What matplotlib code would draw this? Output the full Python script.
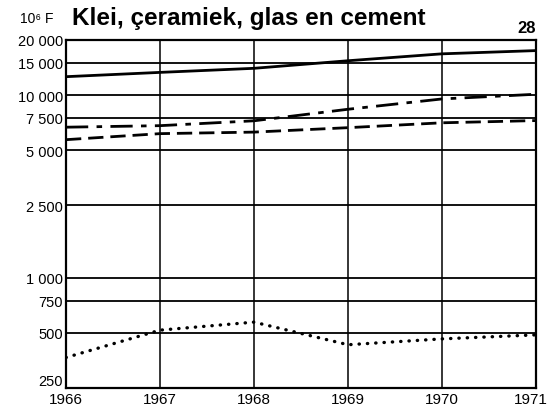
import numpy as np
import matplotlib
matplotlib.use("Agg")
import matplotlib.pyplot as plt
from matplotlib.transforms import ScaledTranslation

plt.rcParams['font.family'] = ['Liberation Sans', 'DejaVu Sans']

years = [1966, 1967, 1968, 1969, 1970, 1971]
solid = [12600, 13300, 14000, 15400, 16800, 17500]
dashdot = [6670, 6800, 7230, 8360, 9520, 10100]
dashed = [5700, 6150, 6270, 6630, 7050, 7250]
dotted = [367, 518, 573, 431, 464, 488]

yticks = [250, 500, 750, 1000, 2500, 5000, 7500, 10000, 15000, 20000]
ylabels = ["250", "500", "750", "1 000", "2 500", "5 000", "7 500", "10 000", "15 000", "20 000"]

fig = plt.figure(figsize=(5.5, 4.14), dpi=100)
ax = fig.add_axes([0.12, 0.0604, 0.8545, 0.8406])

ax.set_yscale('log')
ax.set_xlim(1966, 1971)
ax.set_ylim(250, 20000)

for y in yticks:
    ax.axhline(y, color='black', lw=1.3, zorder=1)
for x in years[1:-1]:
    ax.axvline(x, color='black', lw=1.1, zorder=1)

ax.plot(years, solid, color='black', lw=2.0, zorder=3)
ax.plot(years, dashdot, color='black', lw=2.0, dashes=(8, 3, 2, 3), zorder=3)
ax.plot(years, dashed, color='black', lw=2.0, dashes=(5.5, 2.5), zorder=3)
ax.plot(years, dotted, color='black', lw=2.4, dashes=(0.1, 2.4),
        dash_capstyle='round', zorder=3)

ax.set_yticks(yticks)
ax.set_yticklabels(ylabels)
ax.yaxis.set_minor_locator(matplotlib.ticker.NullLocator())
ax.set_xticks(years)
ax.set_xticklabels([str(y) for y in years])
ax.tick_params(length=0, pad=2)
ax.tick_params(axis='y', labelsize=10.5)
ax.tick_params(axis='x', labelsize=11, pad=3)
for lab in ax.get_yticklabels():
    lab.set_va('center_baseline')
ax.get_yticklabels()[0].set_va('bottom')
# last year label sits flush with the right edge
last = ax.get_xticklabels()[-1]
last.set_transform(last.get_transform() + ScaledTranslation(-0.05, 0, fig.dpi_scale_trans))
for s in ax.spines.values():
    s.set_linewidth(1.6)

fig.text(0.036, 0.955, "10⁶ F", fontsize=10, va='center')
fig.text(0.131, 0.955, "Klei, çeramiek, glas en cement", fontsize=17.5,
         fontweight='bold', va='center')
fig.text(0.958, 0.932, "28", fontsize=12, fontweight='bold', va='center', ha='center')

fig.savefig("out.png", dpi=100)
